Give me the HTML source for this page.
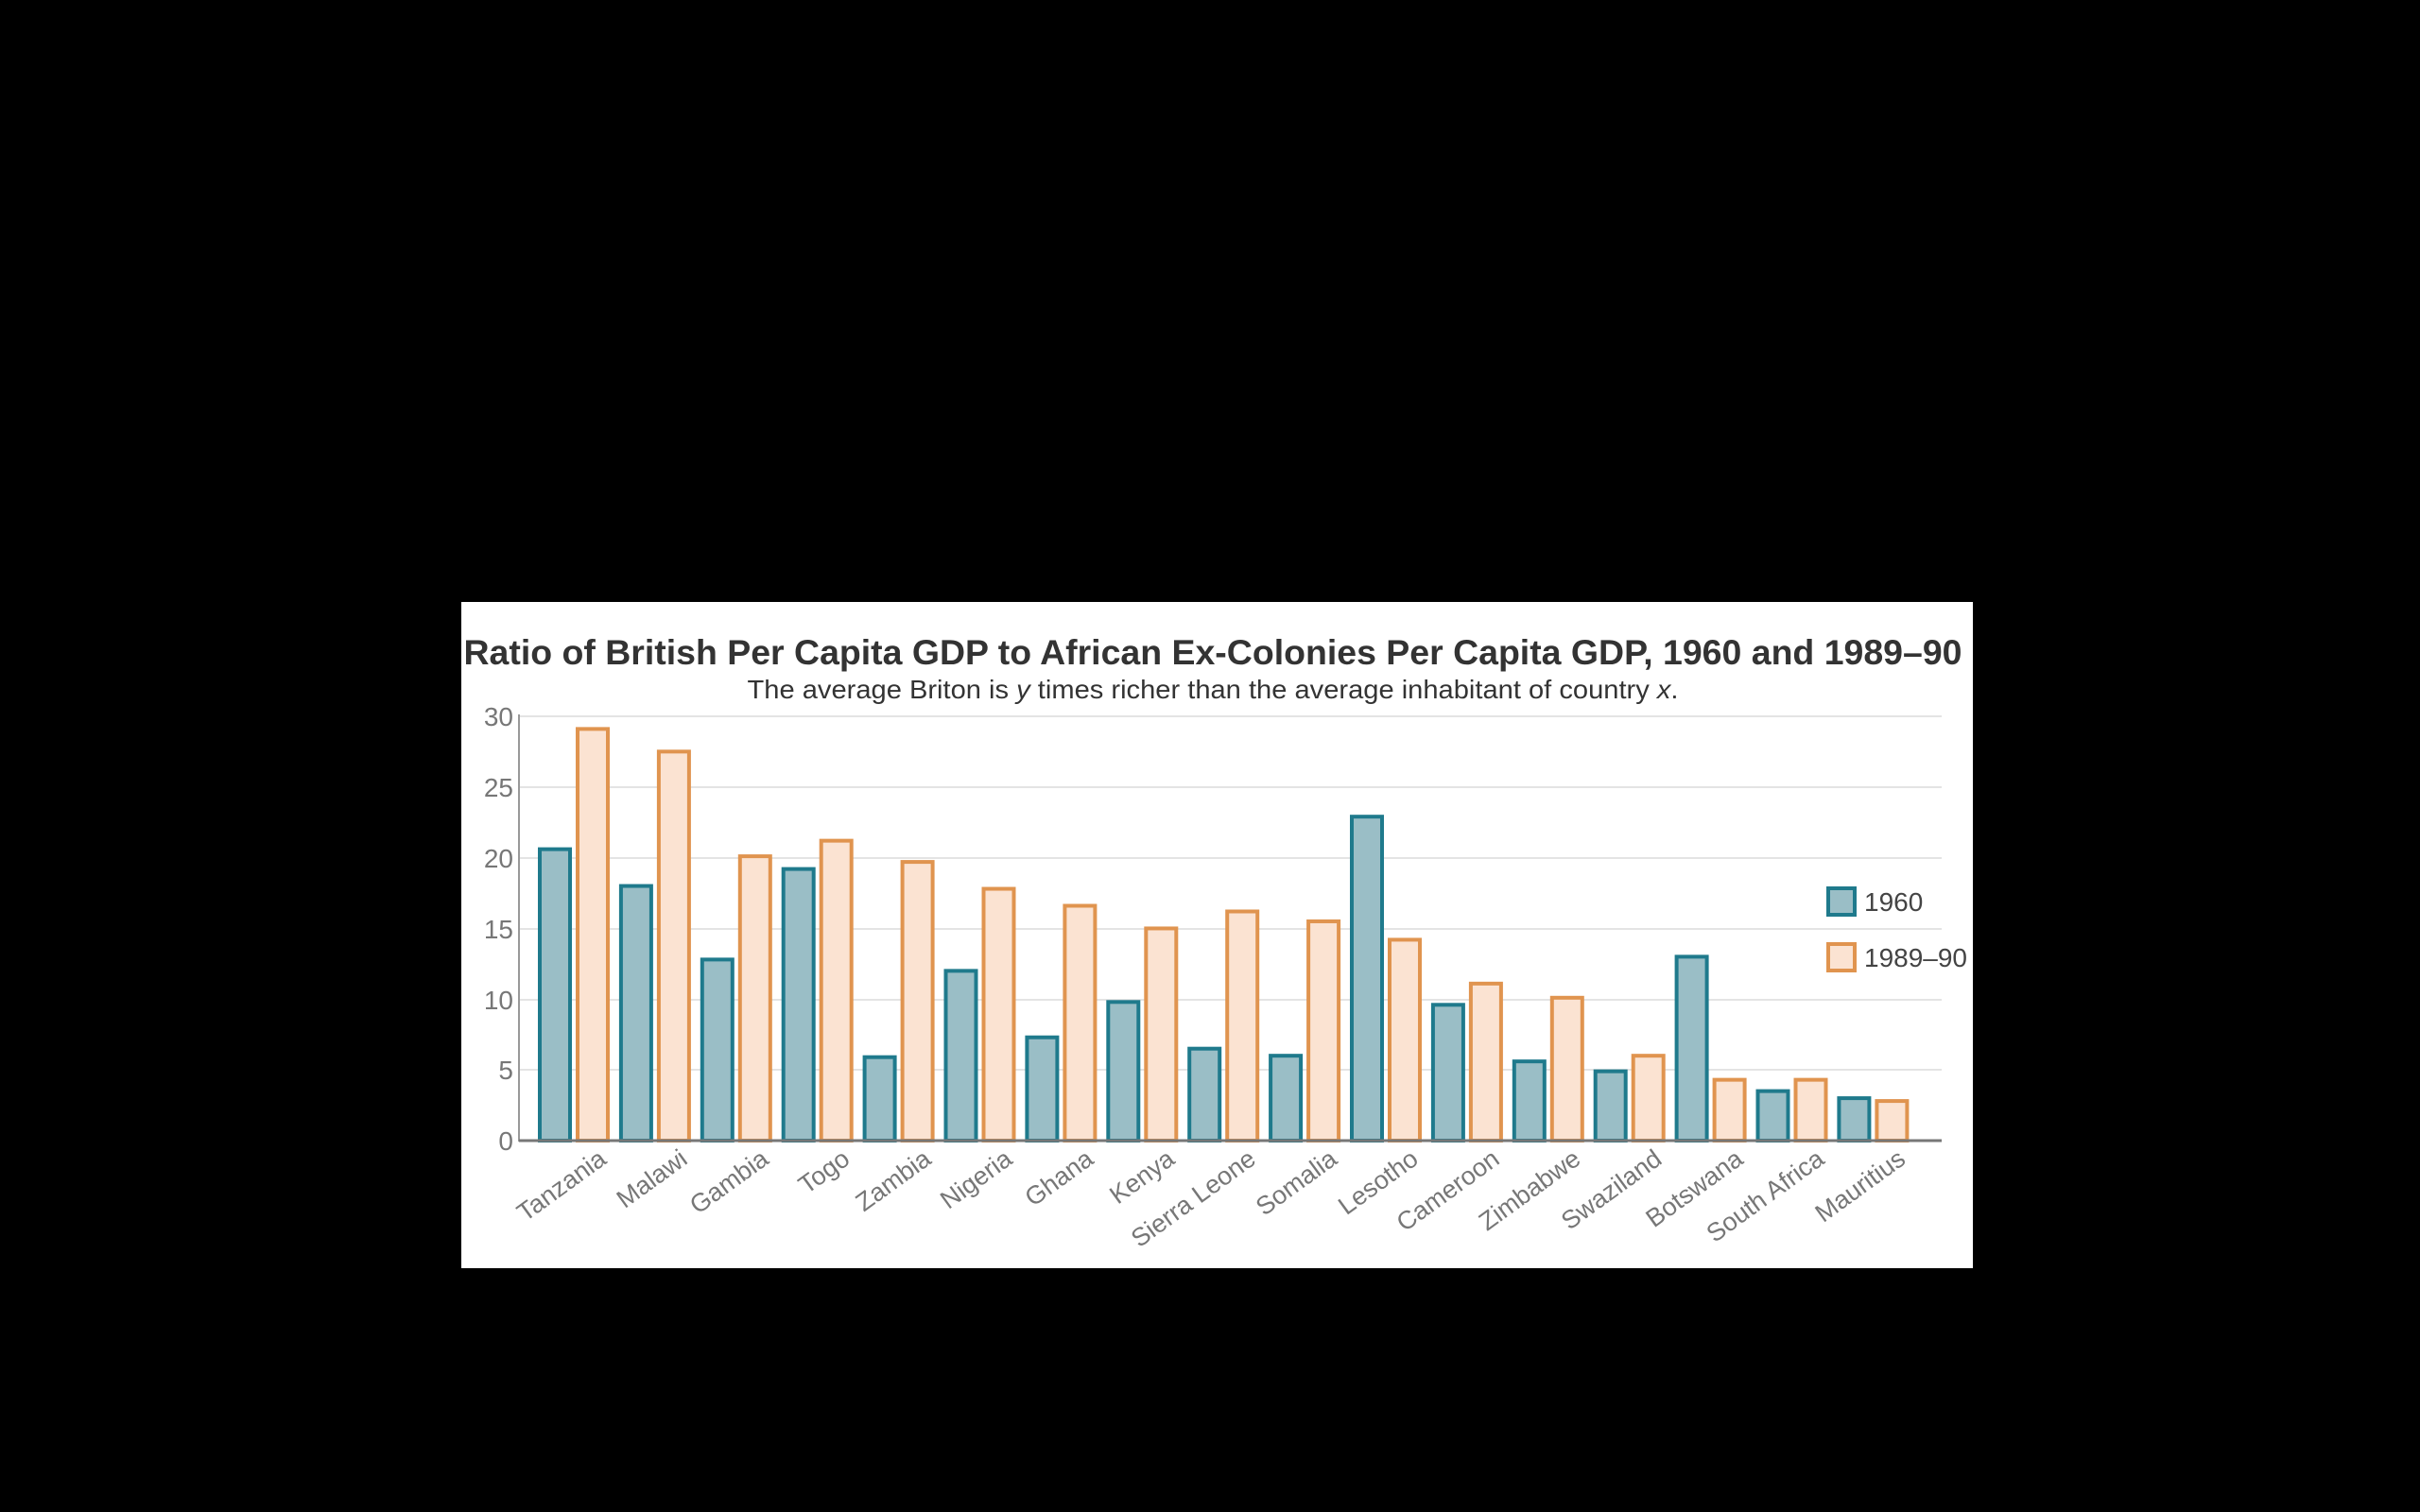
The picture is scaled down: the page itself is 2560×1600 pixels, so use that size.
<!DOCTYPE html>
<html><head><meta charset="utf-8"><style>
html,body{margin:0;padding:0;background:#000;}
svg{display:block;font-family:"Liberation Sans",Arial,sans-serif;}
</style></head><body>
<svg width="2560" height="1600" viewBox="0 0 2560 1600" xmlns="http://www.w3.org/2000/svg">
<rect x="0" y="0" width="2560" height="1600" fill="#000"/>
<rect x="488" y="637" width="1599" height="705" fill="#fff"/>
<text x="1283" y="703" text-anchor="middle" font-size="37" font-weight="bold" fill="#333" textLength="1585" lengthAdjust="spacingAndGlyphs">Ratio of British Per Capita GDP to African Ex-Colonies Per Capita GDP, 1960 and 1989–90</text>
<text x="1283" y="739" text-anchor="middle" font-size="28" fill="#333" textLength="985" lengthAdjust="spacingAndGlyphs">The average Briton is <tspan font-style="italic">y</tspan> times richer than the average inhabitant of country <tspan font-style="italic">x</tspan>.</text>
<g id="grid" stroke="#e4e4e4" stroke-width="2">
<line x1="549" x2="2054" y1="758" y2="758"/>
<line x1="549" x2="2054" y1="833" y2="833"/>
<line x1="549" x2="2054" y1="908" y2="908"/>
<line x1="549" x2="2054" y1="983" y2="983"/>
<line x1="549" x2="2054" y1="1058" y2="1058"/>
<line x1="549" x2="2054" y1="1132" y2="1132"/>
</g>
<g font-size="28" fill="#777" text-anchor="end">
<text x="543" y="768">30</text>
<text x="543" y="843">25</text>
<text x="543" y="918">20</text>
<text x="543" y="993">15</text>
<text x="543" y="1068">10</text>
<text x="543" y="1142">5</text>
<text x="543" y="1217">0</text>
</g>
<g id="bars" stroke-width="4"></g>
<line x1="549" y1="756" x2="549" y2="1208" stroke="#999" stroke-width="2"/>
<line x1="549" y1="1207" x2="2054" y2="1207" stroke="#777" stroke-width="3"/>
<g id="labels" font-size="27" fill="#777" text-anchor="end"></g>
<rect x="1934" y="940" width="28" height="28" fill="#9abec6" stroke="#1f7a8c" stroke-width="4"/>
<rect x="1934" y="999" width="28" height="28" fill="#fbe3d2" stroke="#e0944f" stroke-width="4"/>
<text x="1972" y="964" font-size="28" fill="#444">1960</text>
<text x="1972" y="1023" font-size="28" fill="#444">1989–90</text>
</svg>
<script>
var d=[["Tanzania",20.6,29.1],["Malawi",18,27.5],["Gambia",12.8,20.1],["Togo",19.2,21.2],["Zambia",5.9,19.7],["Nigeria",12,17.8],["Ghana",7.3,16.6],["Kenya",9.8,15],["Sierra Leone",6.5,16.2],["Somalia",6,15.5],["Lesotho",22.9,14.2],["Cameroon",9.6,11.1],["Zimbabwe",5.6,10.1],["Swaziland",4.9,6],["Botswana",13,4.3],["South Africa",3.5,4.3],["Mauritius",3,2.8]];
var ns="http://www.w3.org/2000/svg",b=document.getElementById("bars"),l=document.getElementById("labels");
var z=1207,u=14.97;
d.forEach(function(r,i){var c=607+i*85.9;
function bar(x,v,f,s){var e=document.createElementNS(ns,"rect");var h=v*u;e.setAttribute("x",x);e.setAttribute("y",z-h);e.setAttribute("width",32);e.setAttribute("height",h);e.setAttribute("fill",f);e.setAttribute("stroke",s);b.appendChild(e);}
bar(c-36,r[1],"#9abec6","#1f7a8c");bar(c+4,r[2],"#fbe3d2","#e0944f");
var t=document.createElementNS(ns,"text");var tx=c+36,ty=1230;t.setAttribute("x",tx);t.setAttribute("y",ty);t.setAttribute("transform","rotate(-36 "+tx+" "+ty+")");t.textContent=r[0];l.appendChild(t);});
</script>
</body></html>
